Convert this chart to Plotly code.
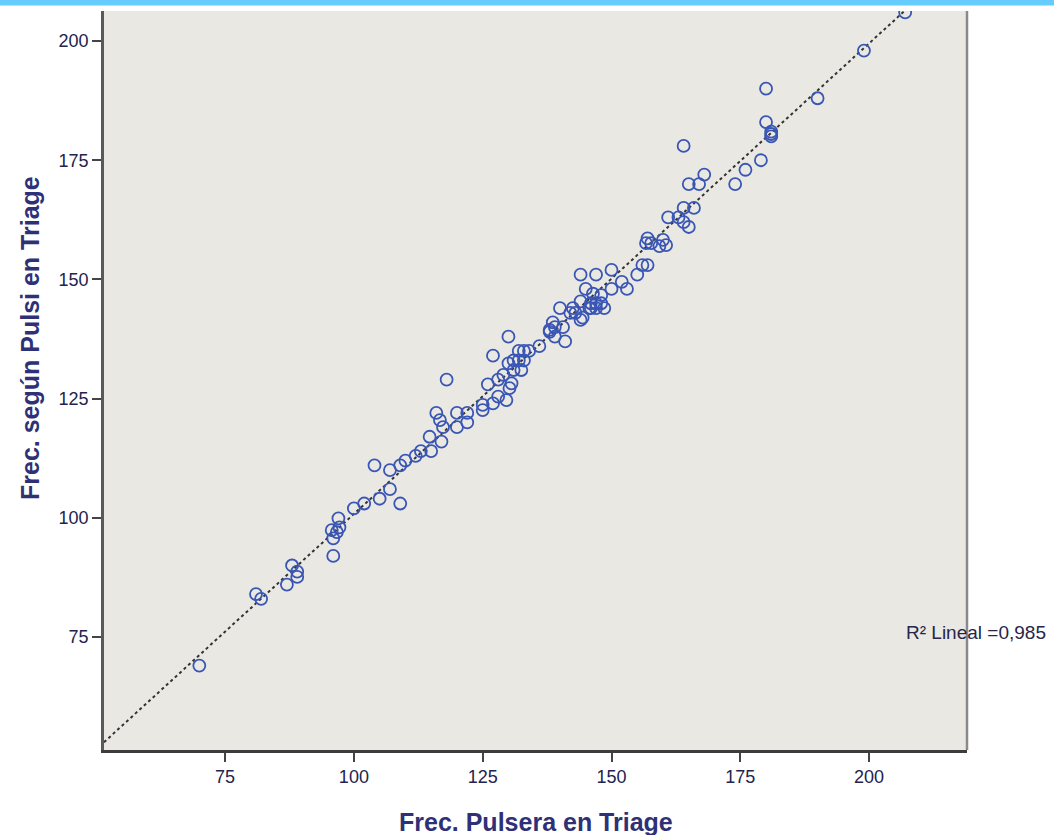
import numpy as np
import plotly.graph_objects as go

# Frec. Pulsera en Triage (x) vs Frec. según Pulsi en Triage (y)
pulsera = [70, 81, 82, 87, 88, 89, 89, 96, 96, 95.7, 97, 97.2, 96.7, 100, 102,
           104, 105, 107, 107, 109, 109, 112, 113, 115, 114.7, 117, 116, 116.7,
           117.3, 120, 120, 122, 122, 118, 125, 125, 126, 127, 128, 129.6, 130.2,
           130.6, 129, 127, 130, 130, 131, 132, 133, 133, 132.5, 134, 136, 138,
           139, 141, 138.6, 140.6, 144, 138, 140, 142.5, 144, 144.4, 145.7, 147,
           148.6, 146, 145, 146.4, 148, 144, 147, 150, 150, 152, 153, 155, 156,
           157, 156.7, 157.7, 159.3, 160.6, 157, 160, 161, 163, 164, 165, 164,
           166, 164, 165, 167, 168, 174, 176, 179, 180, 180, 181, 181, 181, 190,
           199, 207, 143, 146, 147, 148, 131, 132, 110, 128, 139, 142]
pulsi = [69, 84, 83, 86, 90, 88.7, 87.6, 92, 95.7, 97.4, 99.9, 98, 97, 102, 103,
         111, 104, 106, 110, 103, 111, 113, 114, 114, 117, 116, 122, 120.5,
         119, 122, 119, 122, 120, 129, 122.6, 123.7, 128, 124, 125.4, 124.7, 127.2,
         128.2, 130, 134, 138, 132.4, 133, 135, 135, 133, 131, 135, 136, 139,
         138, 137, 141, 140, 141.5, 139.4, 144, 144, 145.4, 142, 144, 144,
         144, 145, 148, 147, 146.7, 151, 151, 152, 148, 149.5, 148, 151, 153,
         153, 157.6, 157.6, 157, 157.2, 158.6, 158.3, 163, 163, 162, 161, 165,
         165, 178, 170, 170, 172, 170, 173, 175, 190, 183, 181, 180, 180.5, 188,
         198, 206, 143, 144, 145, 145, 131, 133, 112, 129, 140, 143]

x_ticks = [75, 100, 125, 150, 175, 200]
y_ticks = [75, 100, 125, 150, 175, 200]
x_range = [51.5, 219]
y_range = [51.3, 206.3]
r2_label = "R² Lineal =0,985"

slope, intercept = np.polyfit(pulsera, pulsi, 1)
fit_x = np.array(x_range)
fit_y = intercept + slope * fit_x

text_col = "#2E3176"
tick_col = "#23234F"
FONT = "Liberation Sans, Arial, sans-serif"

fig = go.Figure()
fig.add_trace(go.Scatter(
    x=fit_x, y=fit_y, mode="lines",
    line=dict(color="#333333", width=2, dash="dot"),
    hoverinfo="skip", showlegend=False,
))
fig.add_trace(go.Scatter(
    x=pulsera, y=pulsi, mode="markers",
    marker=dict(symbol="circle-open", size=12, color="#3A56B5",
                line=dict(width=1.8, color="#3A56B5")),
    showlegend=False,
))

fig.update_layout(
    width=1054, height=835,
    margin=dict(l=104, r=87, t=11, b=85),
    paper_bgcolor="white",
    plot_bgcolor="#EAE8E3",
    font=dict(family=FONT, color=tick_col),
    xaxis=dict(range=x_range, tickvals=x_ticks, showgrid=False, zeroline=False,
               showline=True, linecolor="#3C3C3C", linewidth=2.5,
               ticks="outside", ticklen=9, tickwidth=2, tickcolor="#444",
               tickfont=dict(size=18, color=tick_col)),
    yaxis=dict(range=y_range, tickvals=y_ticks, showgrid=False, zeroline=False,
               showline=True, linecolor="#5A5A5A", linewidth=2.5,
               ticks="outside", ticklen=9, tickwidth=2, tickcolor="#444",
               tickfont=dict(size=18, color=tick_col)),
    shapes=[
        dict(type="line", xref="paper", yref="paper", x0=1, x1=1, y0=0, y1=1,
             line=dict(color="#8A8A8A", width=2.5)),
        dict(type="rect", xref="paper", yref="paper",
             x0=-104 / 863, x1=(1054 - 104) / 863,
             y0=1 + 5.5 / 739, y1=1 + 11.5 / 739,
             line=dict(width=0), fillcolor="#66CCFF"),
    ],
    annotations=[
        dict(text="<b>Frec. Pulsera en Triage</b>", xref="paper", yref="paper",
             x=(536 - 104) / 863, y=(750 - 822) / 739, xanchor="center", yanchor="middle",
             showarrow=False, font=dict(size=25, color=text_col, family=FONT)),
        dict(text="<b>Frec. según Pulsi en Triage</b>", xref="paper", yref="paper",
             x=(30 - 104) / 863, y=(750 - 338) / 739, xanchor="center", yanchor="middle",
             textangle=-90, showarrow=False,
             font=dict(size=25, color=text_col, family=FONT)),
        dict(text=r2_label, xref="x", yref="y", x=206.8, y=76, xanchor="left",
             yanchor="middle", showarrow=False,
             font=dict(size=19, color="#26264A", family=FONT)),
    ],
)

fig.write_html("out.html", config={"displayModeBar": False},
               post_script="document.body.style.margin='0';")
